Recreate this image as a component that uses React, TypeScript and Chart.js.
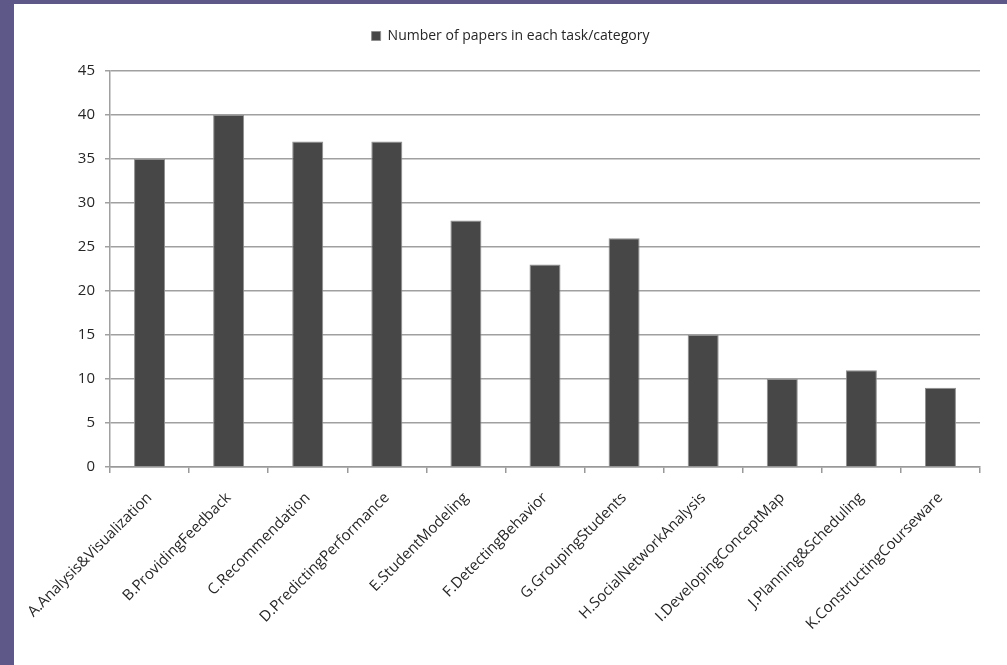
import React, { useEffect, useRef } from "react";
import { Chart, registerables } from "chart.js";

Chart.register(...registerables);

const categories = [
  "A.Analysis&Visualization",
  "B.ProvidingFeedback",
  "C.Recommendation",
  "D.PredictingPerformance",
  "E.StudentModeling",
  "F.DetectingBehavior",
  "G.GroupingStudents",
  "H.SocialNetworkAnalysis",
  "I.DevelopingConceptMap",
  "J.Planning&Scheduling",
  "K.ConstructingCourseware",
];
const seriesLabel = "Number of papers in each task/category";
const paperCounts = [35, 40, 37, 37, 28, 23, 26, 15, 10, 11, 9];
const yMin = 0;
const yMax = 45;
const yStep = 5;

const FONT = "'Open Sans', sans-serif";

export default function App() {
  const ref = useRef<HTMLCanvasElement | null>(null);

  useEffect(() => {
    if (!ref.current) return;
    const legendSpace = {
      id: "legendSpace",
      beforeInit(chart: any) {
        const orig = chart.legend.fit;
        chart.legend.fit = function () {
          orig.call(this);
          this.height += 18;
        };
      },
    };
    const chart = new Chart(ref.current, {
      type: "bar",
      data: {
        labels: categories,
        datasets: [
          {
            label: seriesLabel,
            data: paperCounts,
            backgroundColor: "#474747",
            borderColor: "#8f8f8f",
            borderWidth: 1,
            categoryPercentage: 0.8,
            barPercentage: 0.49,
          },
        ],
      },
      options: {
        animation: false,
        responsive: false,
        maintainAspectRatio: false,
        layout: { padding: { top: 15, left: 27, right: 27, bottom: 0 } },
        plugins: {
          tooltip: { enabled: false },
          legend: {
            display: true,
            position: "top",
            labels: {
              boxWidth: 9,
              boxHeight: 9,
              padding: 10,
              color: "#262626",
              font: { family: FONT, size: 14 },
            },
          },
        },
        scales: {
          x: {
            grid: {
              drawOnChartArea: false,
              drawTicks: true,
              tickLength: 6,
              color: "#999",
              lineWidth: 1.5,
              offset: true,
            },
            border: { display: true, color: "#999", width: 1.5 },
            ticks: {
              autoSkip: false,
              maxRotation: 45,
              minRotation: 45,
              padding: 16,
              color: "#262626",
              font: { family: FONT, size: 15 },
            },
            afterFit(scale: any) {
              scale.height = 198;
              scale.paddingLeft = 0;
              scale.paddingRight = 0;
            },
          },
          y: {
            min: yMin,
            max: yMax,
            grid: {
              color: "#a0a0a0",
              lineWidth: 1.5,
              tickLength: 5,
              drawTicks: true,
            },
            border: { display: true, color: "#a0a0a0", width: 1.5 },
            ticks: {
              stepSize: yStep,
              padding: 10,
              color: "#262626",
              font: { family: FONT, size: 15 },
            },
            afterFit(scale: any) {
              scale.width = 69;
            },
          },
        },
      },
      plugins: [legendSpace],
    } as any);
    return () => chart.destroy();
  }, []);

  return (
    <div
      style={{
        position: "fixed",
        left: 0,
        top: 0,
        width: 1007,
        height: 665,
        background: "#5d5887",
      }}
    >
      <div
        style={{
          position: "absolute",
          left: 14,
          top: 4,
          width: 993,
          height: 661,
          background: "#ffffff",
        }}
      >
        <canvas ref={ref} width={993} height={661} style={{ display: "block" }} />
      </div>
    </div>
  );
}
